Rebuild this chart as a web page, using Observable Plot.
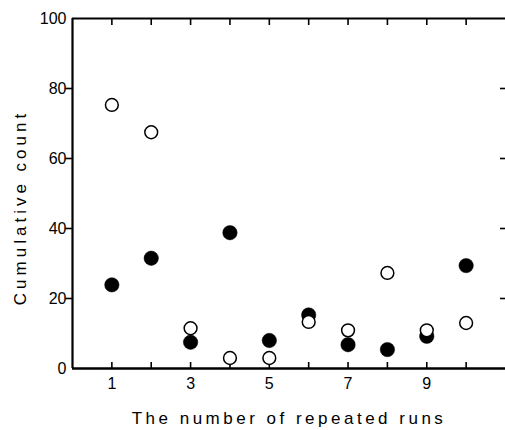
<!DOCTYPE html>
<html><head><meta charset="utf-8">
<script src="https://cdn.jsdelivr.net/npm/d3@7"></script>
<script src="https://cdn.jsdelivr.net/npm/@observablehq/plot@0.6"></script>
<style>body{margin:0;background:#fff;overflow:hidden}</style>
</head><body><div id="chart"></div>
<script>
const runs = [1,2,3,4,5,6,7,8,9,10];
const openCounts = [75.3,67.5,11.5,3.0,3.0,13.3,10.9,27.3,10.9,13.0];
const filledCounts = [23.9,31.5,7.5,38.8,8.0,15.3,6.8,5.4,9.2,29.4];
const xTickLabels = [1,3,5,7,9];
const yTickLabels = [0,20,40,60,80,100];
const yInnerTicks = [20,40,60,80];
const xTitle = "The number of repeated runs";
const yTitle = "Cumulative count";

const openData = runs.map((r,i)=>({run:r,count:openCounts[i]}));
const filledData = runs.map((r,i)=>({run:r,count:filledCounts[i]}));
const blank = () => "";

const chart = Plot.plot({
  width:505, height:430,
  marginLeft:72, marginRight:0, marginTop:18, marginBottom:62,
  style:{fontFamily:"'Liberation Sans', Arial, sans-serif", fontSize:"16px", background:"#fff"},
  x:{domain:[0,11]},
  y:{domain:[0,100]},
  marks:[
    Plot.axisX(runs,{anchor:"bottom", tickSize:-6, strokeWidth:1.6, tickFormat:blank, label:null}),
    Plot.axisX(runs,{anchor:"top", tickSize:-6, strokeWidth:1.6, tickFormat:blank, label:null}),
    Plot.axisX(xTickLabels,{anchor:"bottom", tickSize:0, tickPadding:9, fontSize:16, label:null}),
    Plot.axisY(yInnerTicks,{anchor:"left", tickSize:7, strokeWidth:1.6, tickFormat:blank, label:null}),
    Plot.axisY(yInnerTicks,{anchor:"right", tickSize:-6, strokeWidth:1.6, tickFormat:blank, label:null}),
    Plot.axisY(yTickLabels,{anchor:"left", tickSize:0, tickPadding:6, fontSize:16, label:null}),
    Plot.ruleY([100],{stroke:"#000", strokeWidth:2.2}),
    Plot.ruleY([0],{stroke:"#000", strokeWidth:2.6}),
    Plot.ruleX([0],{stroke:"#000", strokeWidth:2.2}),
    Plot.dot(filledData,{x:"run", y:"count", r:7.2, fill:"#000", stroke:"#000", strokeWidth:0.5}),
    Plot.dot(openData,{x:"run", y:"count", r:6.4, fill:"#fff", stroke:"#000", strokeWidth:1.5}),
    Plot.text([xTitle],{frameAnchor:"bottom", textAnchor:"middle", lineAnchor:"bottom", dy:55, fontSize:17}),
    Plot.text([yTitle],{frameAnchor:"left", textAnchor:"middle", lineAnchor:"middle", rotate:-90, dx:-52, dy:14, fontSize:17})
  ]
});
document.getElementById("chart").appendChild(chart);
const titles = d3.select(chart).selectAll("g[aria-label='text'] text");
titles.filter((d,i,n)=>n[i].textContent===xTitle).attr("letter-spacing","3.5px");
titles.filter((d,i,n)=>n[i].textContent===yTitle).attr("letter-spacing","4px");
</script>
</body></html>
